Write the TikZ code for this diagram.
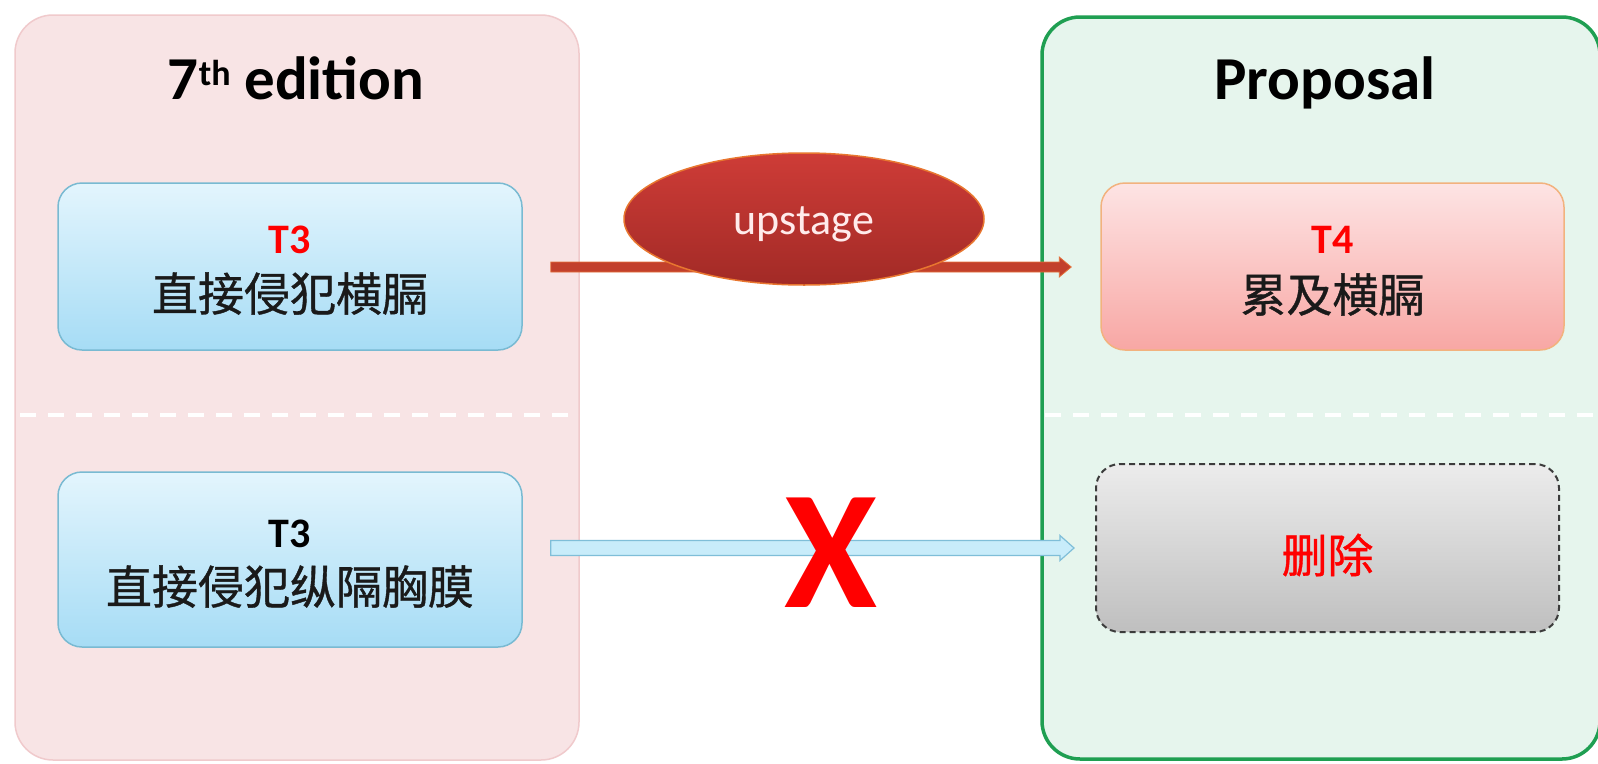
\documentclass[tikz,border=0pt]{standalone}
\usepackage{fontspec}
\setmainfont{Carlito}
\newfontfamily\cjk[FakeBold=0.8]{Noto Sans CJK SC}
\usetikzlibrary{calc,shapes.geometric}

\definecolor{pinkfill}{HTML}{F8E4E5}
\definecolor{pinkline}{HTML}{F0CACC}
\definecolor{greenfill}{HTML}{E6F5ED}
\definecolor{greenline}{HTML}{1F9F52}
\definecolor{bluetop}{HTML}{E3F5FD}
\definecolor{bluebot}{HTML}{A6DCF5}
\definecolor{blueline}{HTML}{79BAD2}
\definecolor{redtop}{HTML}{FDE4E4}
\definecolor{redbot}{HTML}{F8A7A4}
\definecolor{redline}{HTML}{F2B27E}
\definecolor{graytop}{HTML}{ECECEC}
\definecolor{graybot}{HTML}{BFBFBF}
\definecolor{grayline}{HTML}{3C3C3C}
\definecolor{ovaltop}{HTML}{CE3C37}
\definecolor{ovalbot}{HTML}{A22A26}
\definecolor{ovalline}{HTML}{E8762F}
\definecolor{arrowred}{HTML}{C2402C}
\definecolor{arrowredline}{HTML}{E4703A}
\definecolor{arrowblue}{HTML}{C8ECFA}
\definecolor{arrowblueline}{HTML}{7FBED8}
\definecolor{mark}{HTML}{FF0000}
\definecolor{ink}{HTML}{1A1A1A}

\begin{document}
\begin{tikzpicture}[x=1pt,y=-1pt,
  panelleft/.style={draw=pinkline, fill=pinkfill, line width=1.5pt,
    rounded corners=38pt, minimum width=564pt, minimum height=745pt, inner sep=0pt},
  panelright/.style={draw=greenline, fill=greenfill, line width=3.5pt,
    rounded corners=38pt, minimum width=558pt, minimum height=742pt, inner sep=0pt},
  bluebox/.style={draw=blueline, line width=1.5pt, top color=bluetop, bottom color=bluebot,
    rounded corners=24pt, minimum width=464pt, inner sep=0pt},
  redbox/.style={draw=redline, line width=1.5pt, top color=redtop, bottom color=redbot,
    rounded corners=24pt, minimum width=463pt, minimum height=167pt, inner sep=0pt},
  graybox/.style={draw=grayline, line width=2pt, dash pattern=on 6pt off 4pt,
    top color=graytop, bottom color=graybot,
    rounded corners=24pt, minimum width=463pt, minimum height=168pt, inner sep=0pt},
  oval/.style={ellipse, draw=ovalline, line width=1.5pt, top color=ovaltop, bottom color=ovalbot,
    minimum width=360pt, minimum height=132pt, inner sep=0pt},
  heading/.style={font=\fontsize{61}{61}\selectfont\bfseries, anchor=base, inner sep=0pt, text=black},
  tag/.style={font=\fontsize{42}{42}\selectfont\bfseries, anchor=base, inner sep=0pt},
  cjkline/.style={font=\cjk\fontsize{46}{46}\selectfont, anchor=base, inner sep=0pt, text=ink},
  sepline/.style={draw=white, line width=4pt, dash pattern=on 16pt off 12pt},
]
\useasboundingbox (0,0) rectangle (1598,763);
\fill[white] (0,0) rectangle (1598,763);

% two columns
\node[panelleft] (lp) at (297,387.5) {};
\node[panelright] (rp) at (1321,388) {};

% dashed separators between the two rows
\coordinate (s1) at (20,415);
\coordinate (s2) at (576,415);
\coordinate (s3) at (1045,415);
\coordinate (s4) at (1598,415);
\draw[sepline] (s1) -- (s2);
\draw[sepline] (s3) -- (s4);

% column headings
\node[heading] (h1) at (296,99) {7\raisebox{14pt}{\fontsize{36}{36}\selectfont th} edition};
\node[heading] (h2) at (1325,99) {Proposal};

% upper row
\node[bluebox, minimum height=167pt] (tl) at (290,266.5) {};
\node[tag, text=mark] (tlT) at ($(tl.center)+(0,-13.5)$) {T3};
\node[cjkline] (tlC) at ($(tl.center)+(0,44.5)$) {直接侵犯横膈};

\node[redbox] (tr) at (1332.5,266.5) {};
\node[tag, text=mark] (trT) at ($(tr.center)+(0,-13.5)$) {T4};
\node[cjkline] (trC) at ($(tr.center)+(0,45.5)$) {累及横膈};

% lower row
\node[bluebox, minimum height=175pt] (bl) at (290,559.5) {};
\node[tag, text=black] (blT) at ($(bl.center)+(0,-12.5)$) {T3};
\node[cjkline] (blC) at ($(bl.center)+(0,44.5)$) {直接侵犯纵隔胸膜};

\node[graybox] (br) at (1327.5,548) {};
\node[font=\cjk\fontsize{46}{46}\selectfont, text=mark, inner sep=0pt] (brC)
  at ($(br.center)+(0,7)$) {删除};

% upstage arrow
\coordinate (ra) at ($(tl.east)+(28,0.5)$);
\coordinate (rb) at ($(tr.west)+(-29,0.5)$);
\filldraw[fill=arrowred, draw=arrowredline, line width=0.8pt]
  ($(ra)+(0,-5)$) -- ($(rb)+(-12,-5)$) -- ($(rb)+(-12,-10)$) -- (rb)
  -- ($(rb)+(-12,10)$) -- ($(rb)+(-12,5)$) -- ($(ra)+(0,5)$) -- cycle;
\node[oval] (up) at (804,219) {};
\node[anchor=base, inner sep=0pt, font=\fontsize{44}{44}\selectfont, text=white!92!red]
  (upT) at ($(up.center)+(0,15)$) {upstage};

% removed arrow
\coordinate (ba) at ($(bl.east |- br.center)+(28,0)$);
\coordinate (bb) at ($(br.west)+(-21,0)$);
\filldraw[fill=arrowblue, draw=arrowblueline, line width=1.2pt]
  ($(ba)+(0,-7.5)$) -- ($(bb)+(-14,-7.5)$) -- ($(bb)+(-14,-12.5)$) -- (bb)
  -- ($(bb)+(-14,12.5)$) -- ($(bb)+(-14,7.5)$) -- ($(ba)+(0,7.5)$) -- cycle;
\node[font=\fontsize{169}{169}\selectfont\bfseries, text=mark, inner sep=0pt] (ex) at (831,553) {X};
\end{tikzpicture}
\end{document}
